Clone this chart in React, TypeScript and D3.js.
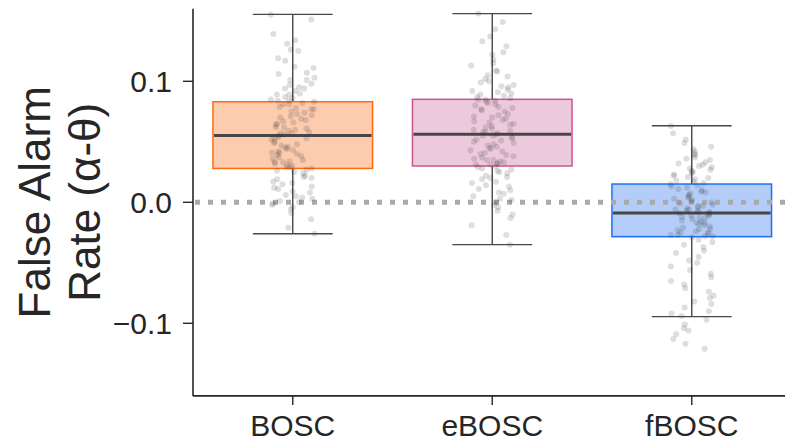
import React from "react";
import * as d3 from "d3";

const categories = ["BOSC", "eBOSC", "fBOSC"];
const whiskerLow = [-0.026, -0.035, -0.0945];
const q1 = [0.028, 0.030, -0.0284];
const median = [0.0553, 0.0562, -0.0088];
const q3 = [0.0831, 0.0851, 0.0151];
const whiskerHigh = [0.1553, 0.1559, 0.0633];
const yTicks = [-0.1, 0.0, 0.1];
const yTickLabels = ["\u22120.1", "0.0", "0.1"];
const fillColors = ["#FDCBAE", "#EDC9DC", "#B4CCF8"];
const strokeColors = ["#FF6A10", "#C9558F", "#1F6FF2"];

const pointsBOSC = [
  0.155, 0.151, 0.139, 0.134, 0.131, 0.126, 0.125, 0.119, 0.117, 0.112, 0.111, 0.107, 0.106, 0.103, 0.101, 0.101,
  0.098, 0.097, 0.095, 0.094, 0.094, 0.092, 0.09, 0.089, 0.089, 0.087, 0.086, 0.085, 0.084, 0.084,
  0.083, 0.082, 0.081, 0.081, 0.079, 0.078, 0.077, 0.077, 0.075, 0.074, 0.073, 0.072, 0.071, 0.07, 0.069,
  0.068, 0.067, 0.066, 0.065, 0.064, 0.062, 0.062, 0.061, 0.06, 0.059, 0.058, 0.057, 0.057, 0.056, 0.055,
  0.054, 0.053, 0.053, 0.052, 0.05, 0.049, 0.048, 0.047, 0.046, 0.045, 0.044, 0.043, 0.042, 0.041, 0.041,
  0.04, 0.039, 0.038, 0.037, 0.036, 0.035, 0.034, 0.033, 0.033, 0.032, 0.031, 0.03, 0.029, 0.029, 0.028,
  0.027, 0.026, 0.025, 0.024, 0.022, 0.021, 0.02, 0.019, 0.017, 0.016, 0.015, 0.013, 0.012, 0.011, 0.009,
  0.008, 0.006, 0.005, 0.004, 0.003, 0.001, 0.0, -0.001, -0.002, -0.004, -0.006, -0.009, -0.014, -0.021, -0.026,
];
const pointsEBOSC = [
  0.156, 0.149, 0.143, 0.137, 0.133, 0.129, 0.124, 0.122, 0.118, 0.115, 0.113, 0.109, 0.108, 0.105, 0.104, 0.102,
  0.1, 0.099, 0.097, 0.096, 0.095, 0.093, 0.092, 0.091, 0.09, 0.089, 0.088, 0.087, 0.086, 0.085,
  0.085, 0.084, 0.083, 0.082, 0.081, 0.08, 0.079, 0.078, 0.077, 0.076, 0.075, 0.073, 0.072, 0.071, 0.07,
  0.069, 0.068, 0.067, 0.066, 0.065, 0.064, 0.063, 0.062, 0.061, 0.06, 0.059, 0.058, 0.058, 0.057, 0.056,
  0.055, 0.055, 0.054, 0.053, 0.052, 0.051, 0.05, 0.049, 0.048, 0.047, 0.046, 0.045, 0.044, 0.043, 0.042,
  0.041, 0.04, 0.039, 0.038, 0.037, 0.036, 0.035, 0.035, 0.034, 0.033, 0.032, 0.032, 0.031, 0.031, 0.03,
  0.029, 0.028, 0.027, 0.026, 0.025, 0.024, 0.022, 0.021, 0.02, 0.019, 0.017, 0.016, 0.014, 0.013, 0.011,
  0.01, 0.008, 0.007, 0.005, 0.003, 0.002, 0.0, -0.002, -0.004, -0.007, -0.01, -0.013, -0.019, -0.027, -0.035,
];
const pointsFBOSC = [
  0.063, 0.057, 0.052, 0.049, 0.046, 0.044, 0.042, 0.04, 0.039, 0.037, 0.036, 0.035, 0.033, 0.032, 0.031,
  0.03, 0.029, 0.028, 0.027, 0.026, 0.025, 0.024, 0.023, 0.022, 0.021, 0.02, 0.019, 0.018, 0.017, 0.016,
  0.015, 0.014, 0.013, 0.012, 0.011, 0.01, 0.009, 0.008, 0.007, 0.006, 0.005, 0.004, 0.003, 0.002, 0.001,
  0.0, -0.001, -0.002, -0.003, -0.003, -0.004, -0.005, -0.006, -0.006, -0.007, -0.007, -0.008, -0.008, -0.009, -0.009,
  -0.01, -0.011, -0.011, -0.012, -0.013, -0.013, -0.014, -0.015, -0.016, -0.017, -0.017, -0.018, -0.019, -0.02, -0.021,
  -0.022, -0.022, -0.023, -0.024, -0.025, -0.025, -0.026, -0.027, -0.027, -0.028, -0.028, -0.029,
  -0.031, -0.033, -0.035, -0.037, -0.04, -0.042, -0.045, -0.048, -0.05, -0.053, -0.056, -0.059, -0.062,
  -0.065, -0.068, -0.071, -0.074, -0.077, -0.079, -0.082, -0.084, -0.087, -0.09, -0.092, -0.094,
  -0.097, -0.101, -0.104, -0.106, -0.109, -0.113, -0.117, -0.121,
];
const groupPoints = [pointsBOSC, pointsEBOSC, pointsFBOSC];

const W = 785;
const H = 443;
const FONT = "'Liberation Sans', Arial, Helvetica, sans-serif";

function hashJitter(i: number, j: number) {
  const s = Math.sin(j * 12.9898 + i * 78.233) * 43758.5453;
  return (s - Math.floor(s)) * 2 - 1;
}

export default function App() {
  const x = d3.scaleLinear().domain([-0.5, 2.5]).range([193, 791.5]);
  const y = d3.scaleLinear().domain([-0.16, 0.16]).range([395.9, 8.7]);
  const step = x(1) - x(0);
  const boxW = step * 0.8;
  const capW = boxW / 2;
  const jitter = step * 0.11;
  const axisColor = "#262626";
  const lineColor = "#474747";

  return (
    <svg
      width={W}
      height={H}
      style={{ position: "absolute", left: 0, top: 0, background: "#fff" }}
      fontFamily={FONT}
    >
      {categories.map((c, i) => {
        const cx = x(i);
        return (
          <g key={c}>
            <line x1={cx} x2={cx} y1={y(q3[i])} y2={y(whiskerHigh[i])} stroke={lineColor} strokeWidth={1.4} />
            <line x1={cx} x2={cx} y1={y(q1[i])} y2={y(whiskerLow[i])} stroke={lineColor} strokeWidth={1.4} />
            <line x1={cx - capW / 2} x2={cx + capW / 2} y1={y(whiskerHigh[i])} y2={y(whiskerHigh[i])} stroke={lineColor} strokeWidth={1.4} />
            <line x1={cx - capW / 2} x2={cx + capW / 2} y1={y(whiskerLow[i])} y2={y(whiskerLow[i])} stroke={lineColor} strokeWidth={1.4} />
            <rect
              x={cx - boxW / 2}
              y={y(q3[i])}
              width={boxW}
              height={y(q1[i]) - y(q3[i])}
              fill={fillColors[i]}
              stroke={strokeColors[i]}
              strokeWidth={1.5}
            />
            <line x1={cx - boxW / 2 + 1} x2={cx + boxW / 2 - 1} y1={y(median[i])} y2={y(median[i])} stroke={lineColor} strokeWidth={3} />
          </g>
        );
      })}
      <line x1={x(-0.5) + 2} x2={W} y1={y(0)} y2={y(0)} stroke="#aaaaaa" strokeWidth={5} strokeDasharray="5 8" />
      {groupPoints.map((pts, i) =>
        pts.map((v, j) => (
          <circle key={`${i}-${j}`} cx={x(i) + hashJitter(i, j) * jitter} cy={y(v)} r={3} fill="#3a3a3a" fillOpacity={0.17} />
        ))
      )}
      <line x1={x(-0.5)} x2={x(-0.5)} y1={y(0.16)} y2={y(-0.16)} stroke={axisColor} strokeWidth={1.6} />
      <line x1={x(-0.5)} x2={W + 10} y1={y(-0.16)} y2={y(-0.16)} stroke={axisColor} strokeWidth={1.6} />
      {yTicks.map((t, k) => (
        <g key={t}>
          <line x1={x(-0.5) - 10} x2={x(-0.5)} y1={y(t)} y2={y(t)} stroke={axisColor} strokeWidth={1.4} />
          <text x={172} y={y(t)} textAnchor="end" dominantBaseline="central" fontSize={30} fill="#262626">
            {yTickLabels[k]}
          </text>
        </g>
      ))}
      {categories.map((c, i) => (
        <g key={c}>
          <line x1={x(i)} x2={x(i)} y1={y(-0.16)} y2={y(-0.16) + 9} stroke={axisColor} strokeWidth={1.4} />
          <text x={x(i)} y={436} textAnchor="middle" fontSize={30} fill="#262626">
            {c}
          </text>
        </g>
      ))}
      <text transform={`translate(34,${y(0)}) rotate(-90)`} textAnchor="middle" dominantBaseline="central" fontSize={44} fill="#262626">
        False Alarm
      </text>
      <text transform={`translate(84,${y(0)}) rotate(-90)`} textAnchor="middle" dominantBaseline="central" fontSize={44} fill="#262626">
        Rate (α-θ)
      </text>
    </svg>
  );
}
